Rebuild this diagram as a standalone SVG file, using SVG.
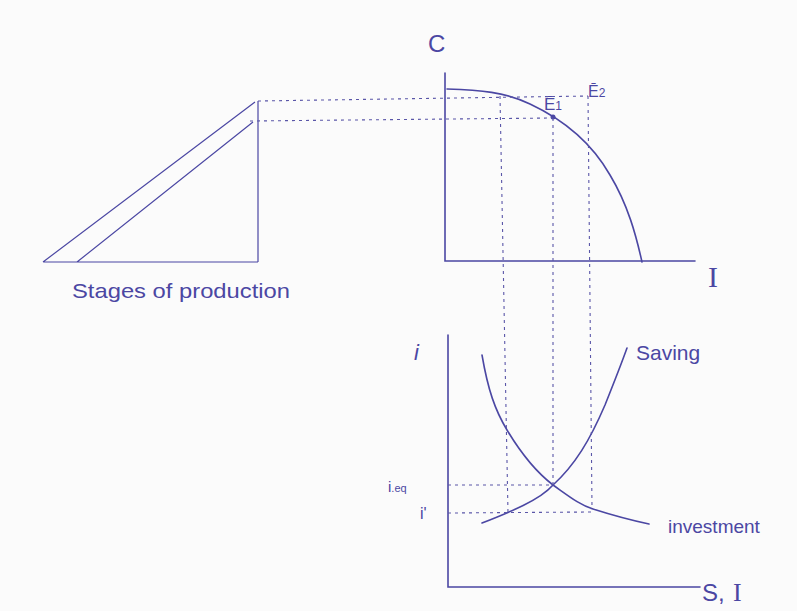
<svg xmlns="http://www.w3.org/2000/svg" width="797" height="611" viewBox="0 0 797 611">
<style>
.ink{stroke:#4b47a3;fill:none;stroke-width:1.6;stroke-linecap:round}
.thin{stroke:#4b47a3;fill:none;stroke-width:1.2}
.dash{stroke:#5a56a8;fill:none;stroke-width:1.1;stroke-dasharray:3 4}
.txt{fill:#4b47a3;font-family:"Liberation Sans",sans-serif}
.ser{fill:#4b47a3;font-family:"Liberation Serif",serif}
</style>
<rect width="797" height="611" fill="#fbfbfb"/>
<g id="stages">
<path class="thin" d="M43 262 L258 262 M258 101 L258 262 M43 262 L255 102 M77 262 L253 122"/>
<text class="txt" x="72" y="298" font-size="21" textLength="218" lengthAdjust="spacingAndGlyphs">Stages of production</text>
</g>
<g id="ppf">
<path class="ink" d="M445 73 L445 261 L695 261"/>
<path class="ink" d="M447 89 C480 90 505 92 530 104 C560 118 590 140 610 175 C628 205 636 235 642 262"/>
<circle cx="553" cy="117" r="2.5" fill="#4b47a3"/>
<text class="txt" x="428" y="52" font-size="24">C</text>
<text class="ser" x="708" y="287" font-size="30">I</text>
<text class="txt" x="544" y="110" font-size="17">Ē<tspan font-size="12">1</tspan></text>
<text class="txt" x="588" y="97" font-size="16">Ē<tspan font-size="12">2</tspan></text>
</g>
<g id="sav-inv">
<path class="ink" d="M448 335 L448 587 L700 587"/>
<path class="ink" d="M482 523 C510 512 540 500 553 485 C575 465 590 440 605 405 C615 380 622 362 627 348"/>
<path class="ink" d="M482 355 C488 390 495 410 507 430 C525 460 540 475 553 485 C570 497 580 505 593 509 C615 516 630 520 649 524"/>
<text class="txt" x="414" y="360" font-size="22" font-style="italic">i</text>
<text class="txt" x="636" y="360" font-size="21">Saving</text>
<text class="txt" x="668" y="533" font-size="19">investment</text>
<text class="txt" x="388" y="492" font-size="15">i<tspan font-size="11">.eq</tspan></text>
<text class="txt" x="420" y="519" font-size="16">i'</text>
<text class="txt" x="702" y="601" font-size="24">S,</text>
<text class="ser" x="733" y="601" font-size="26">I</text>
</g>
<g id="connectors">
<path class="dash" d="M258 101 L588 96"/>
<path class="dash" d="M250 121 L553 118"/>
<path class="dash" d="M500 96 L508 513"/>
<path class="dash" d="M553 118 L553 485"/>
<path class="dash" d="M588 96 L592 508"/>
<path class="dash" d="M448 485 L553 485"/>
<path class="dash" d="M448 513 L592 512"/>
</g>
</svg>
